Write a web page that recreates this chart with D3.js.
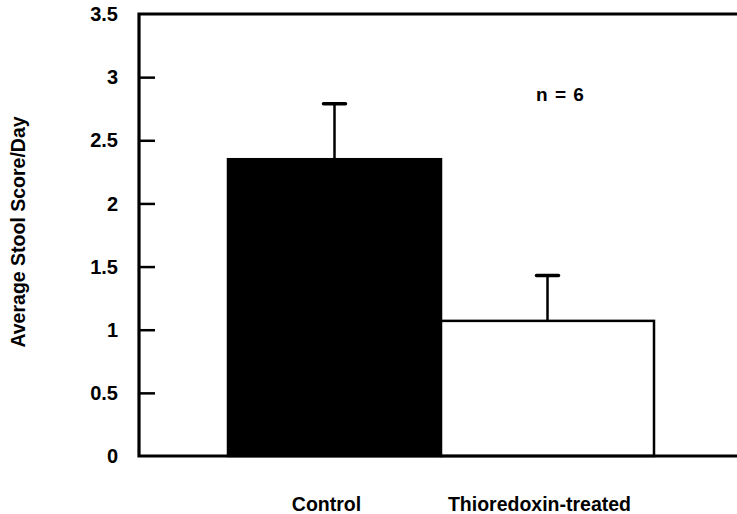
<!DOCTYPE html>
<html>
<head>
<meta charset="utf-8">
<script src="https://cdn.jsdelivr.net/npm/d3@7"></script>
<style>
  html, body { margin: 0; padding: 0; background: #fff; }
  svg { display: block; }
  text { font-family: "Liberation Sans", Arial, Helvetica, sans-serif; font-weight: bold; fill: #000; }
</style>
</head>
<body>
<svg id="chart" width="737" height="514"></svg>
<script>
// Groups and their mean stool scores with error (SEM)
const categories = ["Control", "Thioredoxin-treated"];
const means = [2.35, 1.07];
const errors = [0.44, 0.36];
const fills = ["#000000", "#ffffff"];
const yTicks = [0, 0.5, 1, 1.5, 2, 2.5, 3, 3.5];
const yTickLabels = ["0", "0.5", "1", "1.5", "2", "2.5", "3", "3.5"];
const annotation = "n = 6";
const yTitle = "Average Stool Score/Day";

const svg = d3.select("#chart");
const plot = { left: 139, right: 745, top: 14, bottom: 456 };

const y = d3.scaleLinear().domain([0, 3.5]).range([plot.bottom, plot.top]);
const x = d3.scaleBand().domain(categories).range([228, 654]).padding(0);

// Bars
svg.selectAll("rect.bar")
  .data(categories)
  .enter().append("rect")
  .attr("class", "bar")
  .attr("x", d => x(d))
  .attr("y", (d, i) => y(means[i]))
  .attr("width", x.bandwidth())
  .attr("height", (d, i) => y(0) - y(means[i]))
  .attr("fill", (d, i) => fills[i])
  .attr("stroke", "#000")
  .attr("stroke-width", 2.5);

// Error bars (upper only)
const eb = svg.selectAll("g.err")
  .data(categories)
  .enter().append("g")
  .attr("class", "err");
eb.append("line")
  .attr("x1", d => x(d) + x.bandwidth() / 2)
  .attr("x2", d => x(d) + x.bandwidth() / 2)
  .attr("y1", (d, i) => y(means[i]))
  .attr("y2", (d, i) => y(means[i] + errors[i]))
  .attr("stroke", "#000").attr("stroke-width", 2.5);
eb.append("line")
  .attr("x1", d => x(d) + x.bandwidth() / 2 - 11)
  .attr("x2", d => x(d) + x.bandwidth() / 2 + 11)
  .attr("y1", (d, i) => y(means[i] + errors[i]))
  .attr("y2", (d, i) => y(means[i] + errors[i]))
  .attr("stroke", "#000").attr("stroke-width", 3.5)
  .attr("stroke-linecap", "round");

// Frame: left axis, top and bottom lines
svg.append("path")
  .attr("d", `M${plot.right},${plot.top}H${plot.left}V${plot.bottom}H${plot.right}`)
  .attr("fill", "none")
  .attr("stroke", "#000")
  .attr("stroke-width", 3.2)
  .attr("stroke-linejoin", "miter");

// Y axis ticks (inward) and labels
const yAxis = d3.axisRight(y)
  .tickValues(yTicks)
  .tickSize(16)
  .tickFormat(() => "");
const gy = svg.append("g").attr("transform", `translate(${plot.left},0)`).call(yAxis);
gy.select(".domain").remove();
gy.selectAll(".tick line")
  .attr("stroke", "#000").attr("stroke-width", 2.5)
  .attr("display", d => (d === 0 || d === 3.5) ? "none" : null);

svg.append("g").selectAll("text")
  .data(yTicks)
  .enter().append("text")
  .attr("x", plot.left - 21)
  .attr("y", d => y(d))
  .attr("dy", "0.36em")
  .attr("text-anchor", "end")
  .style("font-size", "20px")
  .text((d, i) => yTickLabels[i]);

// Category labels
svg.append("g").selectAll("text")
  .data(categories)
  .enter().append("text")
  .attr("x", d => x(d) + x.bandwidth() / 2 - 8)
  .attr("y", 511)
  .attr("text-anchor", "middle")
  .style("font-size", "19.5px")
  .text(d => d);

// Y axis title
svg.append("text")
  .attr("transform", "translate(25,232) rotate(-90)")
  .attr("text-anchor", "middle")
  .style("font-size", "19.5px")
  .text(yTitle);

// Sample size annotation
svg.append("text")
  .attr("x", 560)
  .attr("y", 101)
  .attr("text-anchor", "middle")
  .style("font-size", "19px")
  .style("word-spacing", "2px")
  .attr("xml:space", "preserve")
  .text(annotation);
</script>
</body>
</html>
